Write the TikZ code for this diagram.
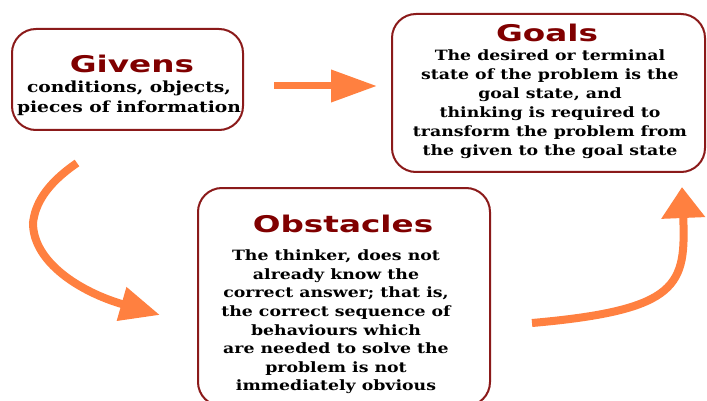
\documentclass[tikz,border=0pt]{standalone}
\usepackage{fontspec}
\usetikzlibrary{arrows.meta,calc}
\newfontfamily\titlefont[FakeStretch=1.42]{DejaVu Sans}
\newfontfamily\bodyfont[FakeStretch=1.22]{DejaVu Serif}
\definecolor{boxred}{HTML}{8B1A1A}
\definecolor{titlered}{HTML}{800000}
\definecolor{arrowor}{HTML}{FF8040}
\begin{document}
\begin{tikzpicture}[x=1pt,y=-1pt,
  box/.style={draw=boxred, line width=2pt, rounded corners=24pt, inner sep=0pt, fill=white},
  title/.style={text=titlered, font=\titlefont\bfseries\fontsize{23}{27}\selectfont, inner sep=0pt},
  body/.style={text=black, align=center, inner sep=0pt},
  arr/.style={draw=arrowor, line width=#1},
  arr/.default=8pt]
\useasboundingbox[fill=white] (0,0) rectangle (707,401);
% boxes
\node[box, minimum width=231pt, minimum height=101pt] (givens) at (127.5,79.5) {};
\node[box, minimum width=313pt, minimum height=158pt] (goals) at (548.5,93) {};
\node[box, minimum width=292pt, minimum height=218pt] (obst) at (344,297) {};
% titles
\node[title] (givensT) at (132,64) {Givens};
\node[title] (goalsT) at (547,33) {Goals};
\node[title] (obstT) at (343,224) {Obstacles};
% bodies
\node[body, font=\bodyfont\bfseries\fontsize{15.3}{20}\selectfont] (givensB) at (129,98)
  {conditions, objects,\\pieces of information};
\node[body, font=\bodyfont\bfseries\fontsize{14.2}{19}\selectfont] (goalsB) at (550,104.5)
  {The desired or terminal\\state of the problem is the\\goal state, and\\thinking is required to\\transform the problem from\\the given to the goal state};
\node[body, font=\bodyfont\bfseries\fontsize{14.2}{18.6}\selectfont] (obstB) at (336,322)
  {The thinker, does not\\already know the\\correct answer; that is,\\the correct sequence of\\behaviours which\\are needed to solve the\\problem is not\\immediately obvious};
% arrow end points
\coordinate (a1s) at ($(givens.east)+(30,6.5)$);
\coordinate (a1e) at ($(goals.west)+(-14,-7)$);
\coordinate (a2s) at (77,163);
\coordinate (a2m) at (33,223);
\coordinate (a2e) at (160,315);
\coordinate (a3s) at (532,323);
\coordinate (a3e) at (682,187);
% arrows
\draw[arr=7pt, -{Triangle[length=46pt,width=31pt]}] (a1s) -- (a1e);
\draw[arr=8pt, -{Triangle[length=40pt,width=33pt]}] (a2s) .. controls (45,185) and (35,205) .. (a2m)
  .. controls (33,262) and (80,292) .. (a2e);
\draw[arr=8pt, -{Triangle[length=31pt,width=42pt]}] (a3s) .. controls (680,310) and (686,285) .. (a3e);
\end{tikzpicture}
\end{document}
